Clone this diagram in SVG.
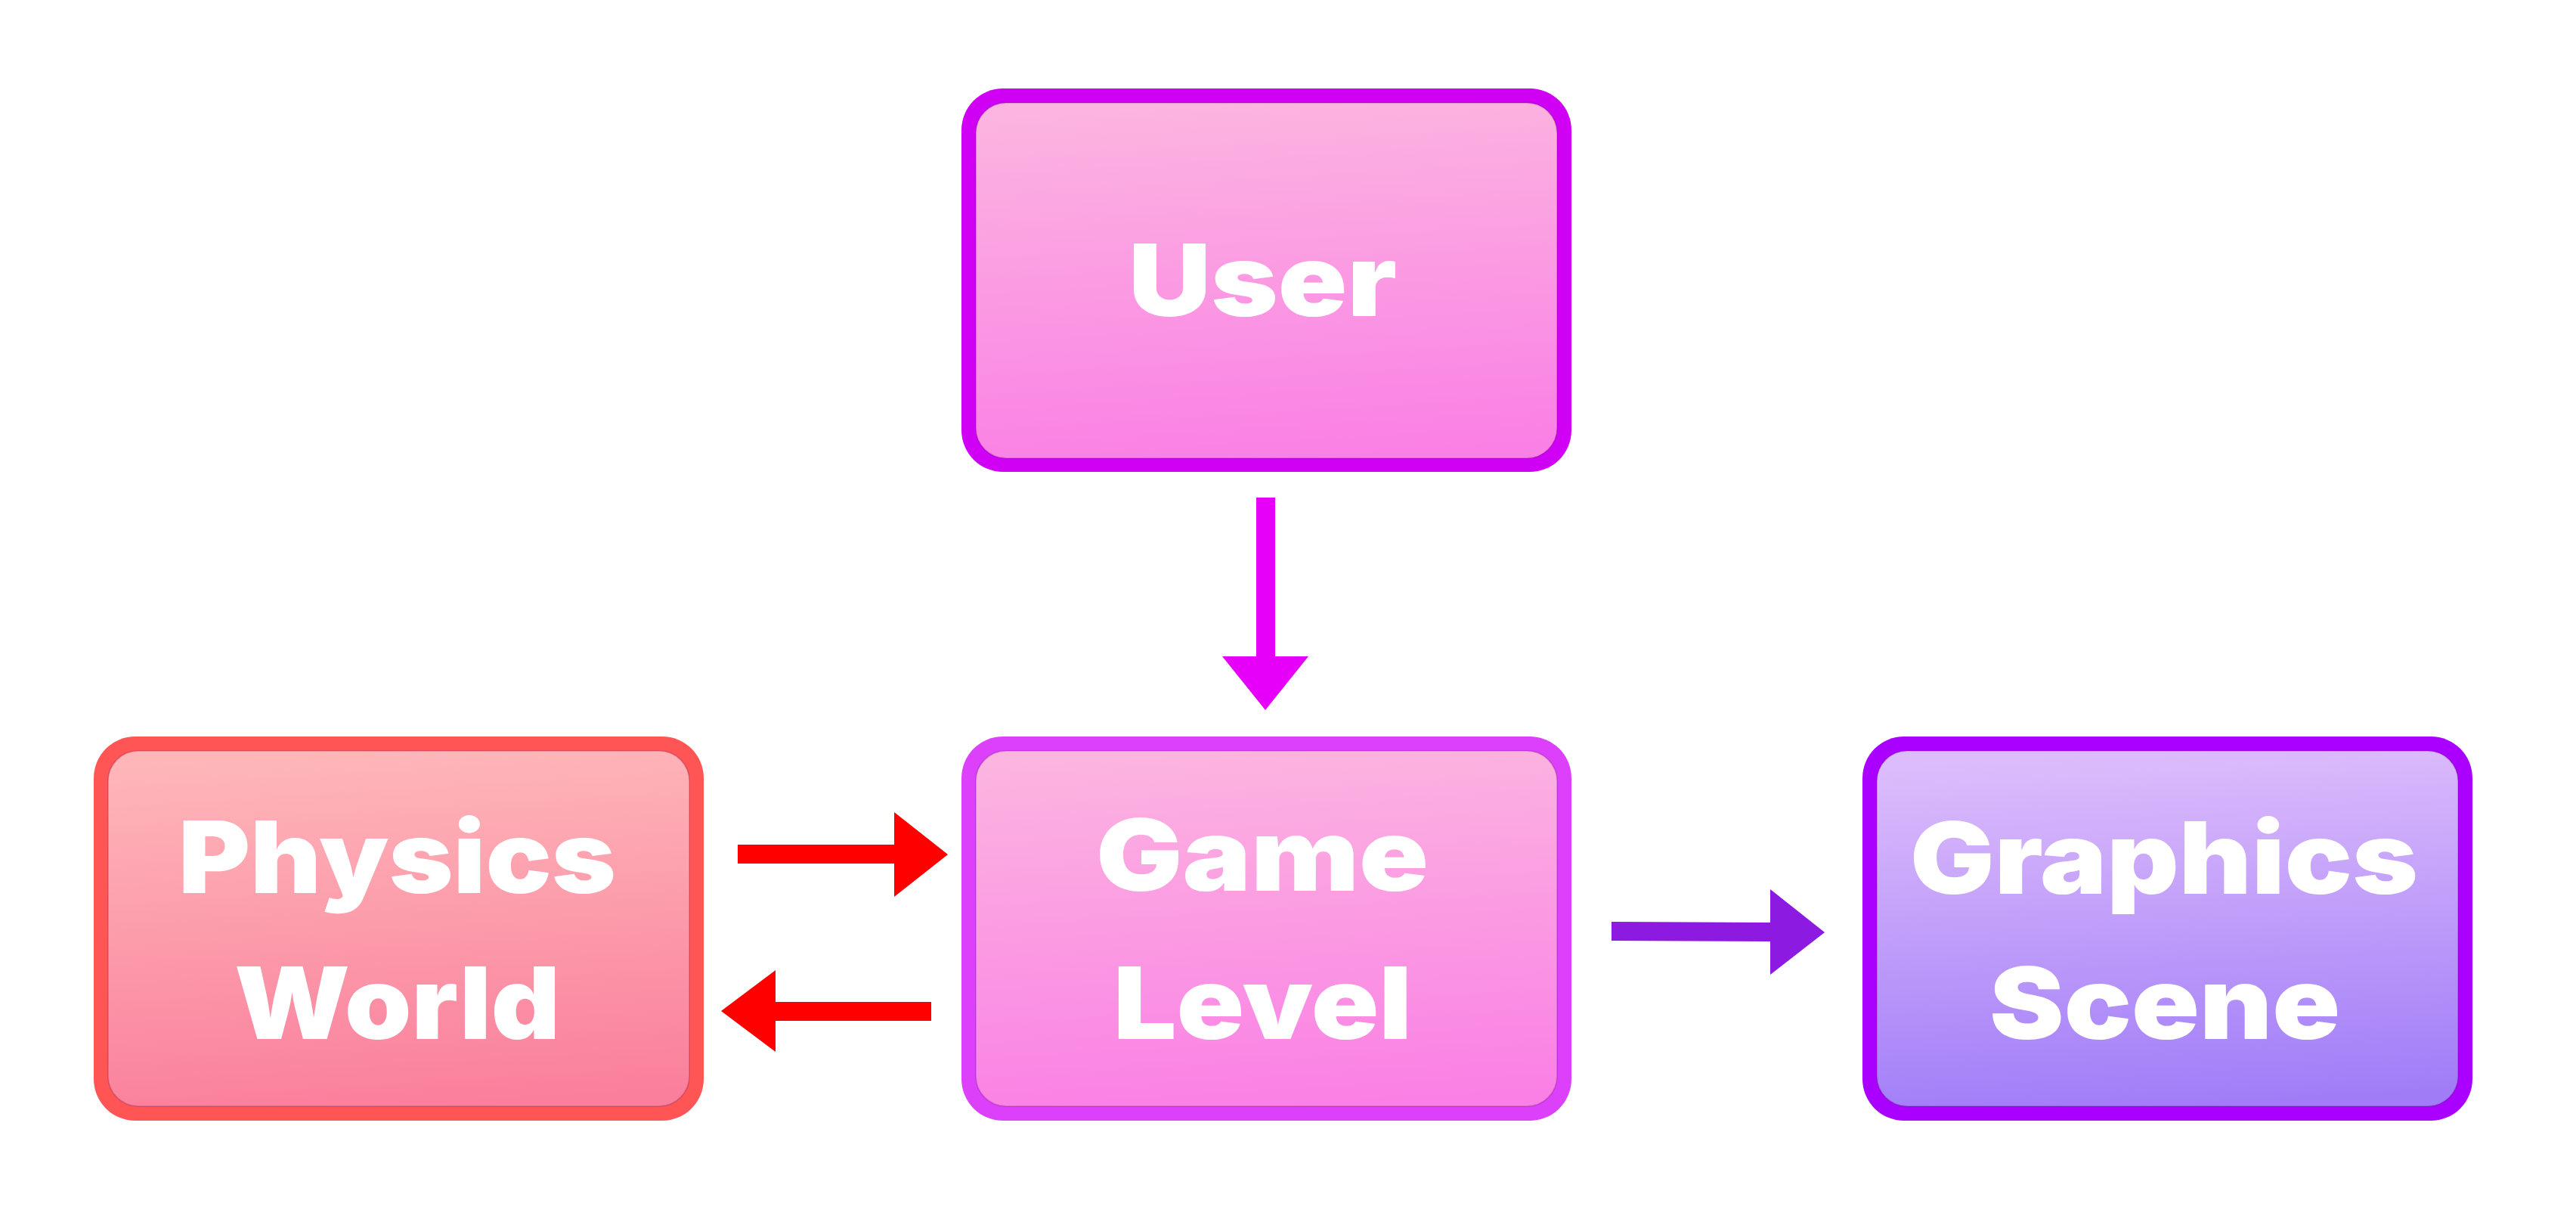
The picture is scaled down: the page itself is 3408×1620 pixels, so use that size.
<svg xmlns="http://www.w3.org/2000/svg" width="3408" height="1620" viewBox="0 0 3408 1620">
  <defs>
    <linearGradient id="gPink" x1="0.45" y1="0" x2="0.55" y2="1">
      <stop offset="0" stop-color="#FCB4E0"/>
      <stop offset="1" stop-color="#FA80E5"/>
    </linearGradient>
    <linearGradient id="gRed" x1="0.45" y1="0" x2="0.55" y2="1">
      <stop offset="0" stop-color="#FEB6B9"/>
      <stop offset="1" stop-color="#FA7F9C"/>
    </linearGradient>
    <linearGradient id="gViolet" x1="0.45" y1="0" x2="0.55" y2="1">
      <stop offset="0" stop-color="#DDBCFC"/>
      <stop offset="1" stop-color="#A07DF7"/>
    </linearGradient>
  </defs>
  <style>
    .outer { rx: 55px; ry: 55px; }
    .inner { rx: 40px; ry: 40px; stroke: rgba(80,0,80,0.18); stroke-width: 2; }
    .label { font-family: Inter, "Liberation Sans", sans-serif; font-weight: 900; font-size: 132px; fill: #FFFFFF; text-anchor: middle; }
  </style>
  <rect x="0" y="0" width="3408" height="1620" fill="#FFFFFF"/>

  <g id="connectors">
    <polygon id="user-to-game" fill="#E600FA" points="1662,658 1687,658 1687,868 1731,868 1674,939 1617,868 1662,868"/>
    <polygon id="physics-to-game" fill="#FF0000" points="976,1117 1183,1117 1183,1074 1254,1130 1183,1186 1183,1142 976,1142"/>
    <polygon id="game-to-physics" fill="#FF0000" points="1232,1325 1026,1325 1026,1283 954,1337 1026,1391 1026,1350 1232,1350"/>
    <polygon id="game-to-graphics" fill="#8C1AE0" points="2132,1219 2342,1220 2342,1176 2414,1233 2342,1289 2342,1245 2132,1244"/>
  </g>

  <g id="user">
    <rect class="outer" x="1272" y="117" width="807" height="507" fill="#D000F5"/>
    <rect class="inner" x="1291" y="136" width="769" height="470" fill="url(#gPink)"/>
    <text class="label" x="1670.5" y="418" textLength="355" lengthAdjust="spacingAndGlyphs">User</text>
  </g>

  <g id="game-level">
    <rect class="outer" x="1272" y="974" width="807" height="508" fill="#DC40FA"/>
    <rect class="inner" x="1291" y="993" width="769" height="470" fill="url(#gPink)"/>
    <text class="label" x="1670" y="1178" textLength="440" lengthAdjust="spacingAndGlyphs">Game</text>
    <text class="label" x="1670.5" y="1374" textLength="395" lengthAdjust="spacingAndGlyphs">Level</text>
  </g>

  <g id="physics-world">
    <rect class="outer" x="124" y="974" width="807" height="508" fill="#FF5555"/>
    <rect class="inner" x="143" y="993" width="769" height="470" fill="url(#gRed)"/>
    <text class="label" x="525.5" y="1181" textLength="579" lengthAdjust="spacingAndGlyphs">Physics</text>
    <text class="label" x="525.5" y="1374" textLength="431" lengthAdjust="spacingAndGlyphs">World</text>
  </g>

  <g id="graphics-scene">
    <rect class="outer" x="2464" y="974" width="807" height="508" fill="#AA00FF"/>
    <rect class="inner" x="2483" y="993" width="769" height="470" fill="url(#gViolet)"/>
    <text class="label" x="2863" y="1182" textLength="672" lengthAdjust="spacingAndGlyphs">Graphics</text>
    <text class="label" x="2864" y="1374" textLength="464" lengthAdjust="spacingAndGlyphs">Scene</text>
  </g>
</svg>
